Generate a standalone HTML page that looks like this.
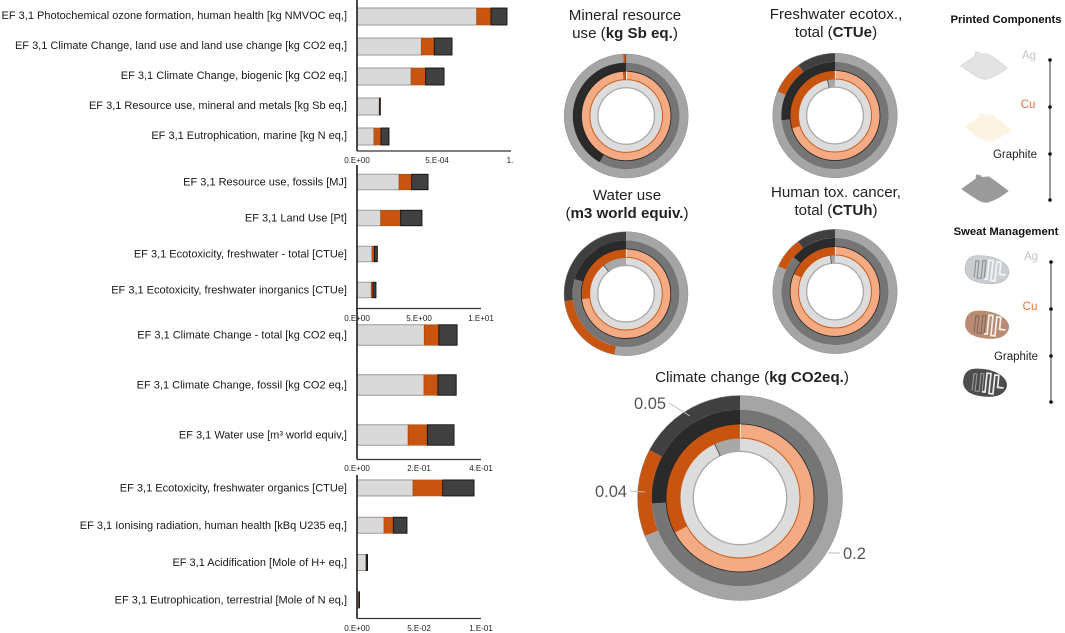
<!DOCTYPE html>
<html lang="en">
<head>
<meta charset="utf-8">
<title>Life cycle impact results</title>
<style>
html,body{margin:0;padding:0;background:#fff;}
body{width:1065px;height:633px;overflow:hidden;font-family:"Liberation Sans",sans-serif;}
svg{display:block;font-family:"Liberation Sans",sans-serif;filter:blur(0.3px);}
</style>
</head>
<body>
<svg id="figure" xmlns="http://www.w3.org/2000/svg" width="1065" height="633" viewBox="0 0 1065 633">
  <rect x="0" y="0" width="1065" height="633" fill="#fff"/>
  <g id="bars"></g>
  <g id="donuts"></g>

  <g font-size="15.1" fill="#222" text-anchor="middle">
    <text x="625" y="20">Mineral resource</text>
    <text x="625" y="38">use (<tspan font-weight="bold">kg Sb eq.</tspan>)</text>
    <text x="836" y="19">Freshwater ecotox.,</text>
    <text x="836" y="37">total (<tspan font-weight="bold">CTUe</tspan>)</text>
    <text x="627" y="200">Water use</text>
    <text x="627" y="218">(<tspan font-weight="bold">m3 world equiv.</tspan>)</text>
    <text x="836" y="197">Human tox. cancer,</text>
    <text x="836" y="215">total (<tspan font-weight="bold">CTUh</tspan>)</text>
    <text x="752" y="382">Climate change (<tspan font-weight="bold">kg CO2eq.</tspan>)</text>
  </g>

  <g font-size="16.5" fill="#555">
    <text x="634" y="409">0.05</text>
    <text x="595" y="497">0.04</text>
    <text x="843" y="559">0.2</text>
    <path d="M669,403 L690,416" stroke="#bbb" stroke-width="1" fill="none"/>
    <path d="M630,491 L645,492" stroke="#bbb" stroke-width="1" fill="none"/>
    <path d="M828,553 L840,553" stroke="#bbb" stroke-width="1" fill="none"/>
  </g>

  <g>
    <text x="1006" y="23" font-size="11.3" font-weight="bold" fill="#111" text-anchor="middle">Printed Components</text>
    <path d="M961,66 L975,56 L975.5,52 L980,53 L980,54.5 L988,54 Q998,60 1007,68 Q997,76 987,79 Q982,80 976,76 Q968,71 961,66 Z" fill="#e3e3e3" stroke="#d8d8d8" stroke-width="1" stroke-linejoin="round"/>
    <path d="M965,127 L979,117 L979.5,113.5 L984,114 L984,115.5 L992,115 Q1002,122 1011,130 Q1001,138 991,141 Q986,142 980,138 Q972,132 965,127 Z" fill="#fdf3e3" stroke="#fdf3e3" stroke-width="1" stroke-linejoin="round"/>
    <path d="M962,189 L976,179 L976.5,175 L981,176 L981,177.5 L989,177 Q999,184 1008,191 Q998,199 988,202 Q983,203 977,199 Q969,194 962,189 Z" fill="#9a9a9a" stroke="#9a9a9a" stroke-width="1" stroke-linejoin="round"/>
    <text x="1029" y="59" font-size="11.5" fill="#c4c4c4" text-anchor="middle">Ag</text>
    <text x="1028" y="108" font-size="11.5" fill="#e8703a" text-anchor="middle">Cu</text>
    <text x="1015" y="158" font-size="11.5" fill="#222" text-anchor="middle">Graphite</text>
    <line x1="1050" y1="60" x2="1050" y2="200" stroke="#333" stroke-width="1"/>
    <circle cx="1050" cy="60" r="1.8" fill="#111"/>
    <circle cx="1050" cy="107" r="1.8" fill="#111"/>
    <circle cx="1050" cy="154" r="1.8" fill="#111"/>
    <circle cx="1050" cy="200" r="1.8" fill="#111"/>
  </g>

  <g>
    <text x="1006" y="235" font-size="11.3" font-weight="bold" fill="#111" text-anchor="middle">Sweat Management</text>
    <g transform="translate(987,270) rotate(6)">
      <path d="M-22,0 Q-22,-13 -9,-13.5 Q4,-15 14,-10 Q23,-5 22,2 Q20,11 8,13 Q-6,15 -15,11 Q-22,7 -22,0 Z" fill="#c9ced3" stroke="#b5b5b5" stroke-width="0.6"/>
      <path d="M-12,9 V-8 H-9 V9 H-5 V-9 H-2 V9" fill="none" stroke="#8e8e8e" stroke-width="1.1"/>
      <path d="M-2,9 H1 V-10 H5 V10 H9 V-9 H13 V3 H19" fill="none" stroke="#f4f4f4" stroke-width="1.7"/>
    </g>
    <g transform="translate(987,325) rotate(6)">
      <path d="M-22,0 Q-22,-13 -9,-13.5 Q4,-15 14,-10 Q23,-5 22,2 Q20,11 8,13 Q-6,15 -15,11 Q-22,7 -22,0 Z" fill="#ba8b73"/>
      <path d="M-12,9 V-8 H-9 V9 H-5 V-9 H-2 V9" fill="none" stroke="#7d6a60" stroke-width="1.1"/>
      <path d="M-2,9 H1 V-10 H5 V10 H9 V-9 H13 V3 H19" fill="none" stroke="#f4f0ec" stroke-width="1.7"/>
    </g>
    <g transform="translate(985,383) rotate(6)">
      <path d="M-22,0 Q-22,-13 -9,-13.5 Q4,-15 14,-10 Q23,-5 22,2 Q20,11 8,13 Q-6,15 -15,11 Q-22,7 -22,0 Z" fill="#4d4d4d"/>
      <path d="M-12,9 V-8 H-9 V9 H-5 V-9 H-2 V9" fill="none" stroke="#9a9a9a" stroke-width="1.1"/>
      <path d="M-2,9 H1 V-10 H5 V10 H9 V-9 H13 V3 H19" fill="none" stroke="#ececec" stroke-width="1.7"/>
    </g>
    <text x="1031" y="260" font-size="11.5" fill="#c4c4c4" text-anchor="middle">Ag</text>
    <text x="1030" y="310" font-size="11.5" fill="#e8703a" text-anchor="middle">Cu</text>
    <text x="1016" y="360" font-size="11.5" fill="#222" text-anchor="middle">Graphite</text>
    <line x1="1051" y1="262" x2="1051" y2="402" stroke="#333" stroke-width="1"/>
    <circle cx="1051" cy="262" r="1.8" fill="#111"/>
    <circle cx="1051" cy="309" r="1.8" fill="#111"/>
    <circle cx="1051" cy="356" r="1.8" fill="#111"/>
    <circle cx="1051" cy="402" r="1.8" fill="#111"/>
  </g>
</svg>

<script>
// ---- Bar chart data ----
const categoriesA = ["EF 3,1 Photochemical ozone formation, human health [kg NMVOC eq,]","EF 3,1 Climate Change, land use and land use change [kg CO2 eq,]","EF 3,1 Climate Change, biogenic [kg CO2 eq,]","EF 3,1 Resource use, mineral and metals [kg Sb eq,]","EF 3,1 Eutrophication, marine [kg N eq,]"];
const lightA = [7.48e-4, 4.02e-4, 3.38e-4, 1.39e-4, 1.06e-4];
const copperA = [0.895e-4, 0.81e-4, 0.91e-4, 0.03e-4, 0.44e-4];
const graphiteA = [1.0e-4, 1.11e-4, 1.15e-4, 0.04e-4, 0.50e-4];
const tickValuesA = [0, 5e-4];
const tickLabelsA = ["0.E+00", "5.E-04"];
const domainMaxA = 1e-3;

const categoriesB = ["EF 3,1 Resource use, fossils [MJ]","EF 3,1 Land Use [Pt]","EF 3,1 Ecotoxicity, freshwater - total [CTUe]","EF 3,1 Ecotoxicity, freshwater inorganics [CTUe]"];
const lightB = [3.39, 1.91, 1.21, 1.15];
const copperB = [1.02, 1.61, 0.19, 0.14];
const graphiteB = [1.32, 1.72, 0.24, 0.24];
const tickValuesB = [0, 5, 10];
const tickLabelsB = ["0.E+00", "5.E+00", "1.E+01"];
const domainMaxB = 10;

const categoriesC = ["EF 3,1 Climate Change - total [kg CO2 eq,]","EF 3,1 Climate Change, fossil [kg CO2 eq,]","EF 3,1 Water use [m\u00b3 world equiv,]"];
const lightC = [0.217, 0.216, 0.165];
const copperC = [0.047, 0.045, 0.062];
const graphiteC = [0.059, 0.059, 0.086];
const tickValuesC = [0, 0.2, 0.4];
const tickLabelsC = ["0.E+00", "2.E-01", "4.E-01"];
const domainMaxC = 0.4;

const categoriesD = ["EF 3,1 Ecotoxicity, freshwater organics [CTUe]","EF 3,1 Ionising radiation, human health [kBq U235 eq,]","EF 3,1 Acidification [Mole of H+ eq,]","EF 3,1 Eutrophication, terrestrial [Mole of N eq,]"];
const lightD = [0.0452, 0.0218, 0.0073, 0.0012];
const copperD = [0.0239, 0.0075, 0.0002, 0.0004];
const graphiteD = [0.0253, 0.0110, 0.0010, 0.0004];
const tickValuesD = [0, 0.05, 0.1];
const tickLabelsD = ["0.E+00", "5.E-02", "1.E-01"];
const domainMaxD = 0.1;

// ---- Donut data: each ring lists its segments clockwise from 12 o'clock ----
const mineralOuter = [99.2, 0.6, 0.2];
const mineralSecond = [58.3, 0, 41.7];
const mineralThird = [98.8, 1.2];
const mineralInner = [100, 0];

const freshwaterOuter = [81.3, 8.7, 10];
const freshwaterSecond = [73.6, 0, 26.4];
const freshwaterThird = [70.3, 29.7];
const freshwaterInner = [96.7, 3.3];

const waterOuter = [53, 20.1, 26.9];
const waterSecond = [79.4, 0, 20.6];
const waterThird = [73, 27];
const waterInner = [89.4, 10.6];

const humanOuter = [81.7, 8.2, 10.1];
const humanSecond = [86, 0, 14];
const humanThird = [81.3, 18.7];
const humanInner = [98, 2];

const climateOuter = [0.2, 0.04, 0.05];
const climateSecond = [74, 0, 26];
const climateThird = [67.2, 32.8];
const climateInner = [93, 7];

const NS = "http://www.w3.org/2000/svg";
function make(tag, attrs, parent) {
  const el = document.createElementNS(NS, tag);
  for (const k in attrs) el.setAttribute(k, attrs[k]);
  parent.appendChild(el);
  return el;
}
function linearScale(dMax, r0, r1) {
  return function (v) { return r0 + (v / dMax) * (r1 - r0); };
}
function bandScale(n, r0, r1) {
  const step = (r1 - r0) / n;
  return function (i) { return r0 + step * (i + 0.5); };
}

function drawBarPanel(key, cats, light, copper, graphite, ticks, tickLabels, dMax, cfg) {
  const root = document.getElementById("bars");
  const g = make("g", {}, root);
  
  
  const x = linearScale(dMax, cfg.x0, cfg.x1);
  const y = bandScale(cats.length, cfg.top, cfg.bottom);

  cats.forEach(function (c, i) {
    const cy = y(i);
    const label = make("text", { x: 347, y: cy + cfg.labelDy, "font-size": 11, fill: "#1a1a1a", "text-anchor": "end" }, g);
    
    
    label.textContent = c;

    const top = cy - cfg.barH / 2;
    const a = light[i], b = a + copper[i], t = b + graphite[i];
    const r1 = make("rect", { x: x(0), y: top, width: x(a) - x(0), height: cfg.barH, fill: "#d9d9d9", stroke: "#9a9a9a", "stroke-width": 1 }, g);
    
    
    const r2 = make("rect", { x: x(a), y: top, width: x(b) - x(a), height: cfg.barH, fill: "#c8540f", stroke: "#a8480f", "stroke-width": 0.6 }, g);
    
    
    const r3 = make("rect", { x: x(b), y: top, width: x(t) - x(b), height: cfg.barH, fill: "#404040", stroke: "#111", "stroke-width": 0.9 }, g);
    
    
  });

  const yAxis = make("line", { x1: cfg.x0, x2: cfg.x0, y1: cfg.axisTop, y2: cfg.axisY, stroke: "#1c1c1c", "stroke-width": 1.6 }, g);
  
  
  const xAxis = make("line", { x1: cfg.x0, x2: cfg.axisEnd, y1: cfg.axisY, y2: cfg.axisY, stroke: "#333", "stroke-width": 1.2 }, g);
  
  

  ticks.forEach(function (v, i) {
    const t = make("text", { x: x(v), y: cfg.tickY, "font-size": 8, fill: "#222", "text-anchor": "middle" }, g);
    
    
    t.textContent = tickLabels[i];
  });
}

drawBarPanel("top", categoriesA, lightA, copperA, graphiteA, tickValuesA, tickLabelsA, domainMaxA,
  { x0: 357, x1: 517, top: 1.5, bottom: 151.5, barH: 17, labelDy: 2.5, axisTop: 0, axisY: 151, axisEnd: 511, tickY: 163 });
drawBarPanel("second", categoriesB, lightB, copperB, graphiteB, tickValuesB, tickLabelsB, domainMaxB,
  { x0: 357, x1: 481, top: 164, bottom: 308, barH: 15.5, labelDy: 3.5, axisTop: 165, axisY: 308.5, axisEnd: 481, tickY: 321 });
drawBarPanel("third", categoriesC, lightC, copperC, graphiteC, tickValuesC, tickLabelsC, domainMaxC,
  { x0: 357, x1: 481, top: 310, bottom: 460, barH: 20.5, labelDy: 3.5, axisTop: 308, axisY: 459.5, axisEnd: 481, tickY: 471 });
drawBarPanel("bottom", categoriesD, lightD, copperD, graphiteD, tickValuesD, tickLabelsD, domainMaxD,
  { x0: 357, x1: 481, top: 469.3, bottom: 618.5, barH: 16, labelDy: 3.5, axisTop: 475, axisY: 618.5, axisEnd: 481, tickY: 631 });

// Truncated tick label on the top panel, cut off at the figure edge.
(function () {
  const host = document.getElementById("bars");
  const t = make("text", { x: 510, y: 163, "font-size": 8, fill: "#222", "text-anchor": "middle" }, host);
  
  
  t.textContent = "1.";
})();

function polar(cx, cy, r, d) {
  const a = (d - 90) * Math.PI / 180;
  return [cx + r * Math.cos(a), cy + r * Math.sin(a)];
}

function sectorPath(cx, cy, rOut, rIn, a0, a1) {
  if (a1 - a0 >= 359.99) a1 = a0 + 359.99;
  const pt = function (r, d) { const p = polar(cx, cy, r, d); return p[0].toFixed(2) + "," + p[1].toFixed(2); };
  const large = a1 - a0 > 180 ? 1 : 0;
  return "M" + pt(rOut, a0) + " A" + rOut + "," + rOut + " 0 " + large + " 1 " + pt(rOut, a1) +
    " L" + pt(rIn, a1) + " A" + rIn + "," + rIn + " 0 " + large + " 0 " + pt(rIn, a0) + " Z";
}

function drawRing(g, ringName, values, colors, cx, cy, rOut, rIn) {
  const total = values.reduce(function (s, v) { return s + v; }, 0);
  let acc = 0;
  values.forEach(function (v, i) {
    if (v <= 0) return;
    const a0 = acc / total * 360;
    acc += v;
    const a1 = acc / total * 360;
    const p = make("path", { d: sectorPath(cx, cy, rOut, rIn, a0, a1), fill: colors[i] }, g);
    
    
  });
}

function drawDonut(key, outer, second, third, inner, cx, cy, R) {
  const root = document.getElementById("donuts");
  const g = make("g", {}, root);
  
  
  const k = R / 102.5;
  const r1 = 88.3 * k, r2 = 74 * k, r3 = 60 * k, r4 = 46.7 * k;
  drawRing(g, 'outer-ring', outer, ["#a5a5a5", "#c8540f", "#404040"], cx, cy, R, r1);
  drawRing(g, 'second-ring', second, ["#757575", "#c8540f", "#2a2a2a"], cx, cy, r1, r2);
  drawRing(g, 'third-ring', third, ["#f4aa83", "#c8540f"], cx, cy, r2, r3);
  drawRing(g, 'inner-ring', inner, ["#dcdcdc", "#a8a8a8"], cx, cy, r3, r4);

  const outline = make("circle", { cx: cx, cy: cy, r: R, fill: "none", stroke: "#8f8f8f", "stroke-width": 0.5 }, g);
  
  
  const dark = make("circle", { cx: cx, cy: cy, r: r2, fill: "none", stroke: "#222", "stroke-width": 0.8 }, g);
  
  
  const copperLine = make("circle", { cx: cx, cy: cy, r: r3, fill: "none", stroke: "#c8540f", "stroke-width": 0.9 }, g);
  
  
  const innerLine = make("circle", { cx: cx, cy: cy, r: r4, fill: "#fff", stroke: "#a8a8a8", "stroke-width": 1.3 }, g);
  
  
  const seam = make("line", { x1: cx + 0.3, x2: cx + 0.3, y1: cy - r2, y2: cy - r3, stroke: "#fff", "stroke-width": 0.8 }, g);
  
  

  if (inner[1] > 0) {
    const angle = inner[0] / (inner[0] + inner[1]) * 360;
    const pA = polar(cx, cy, r3, angle);
    const pB = polar(cx, cy, r4, angle);
    const edge = make("line", { x1: pA[0], y1: pA[1], x2: pB[0], y2: pB[1], stroke: "#444", "stroke-width": 0.8 }, g);
    
    
  }
}

drawDonut("mineral", mineralOuter, mineralSecond, mineralThird, mineralInner, 626.2, 116, 62);
drawDonut("freshwater", freshwaterOuter, freshwaterSecond, freshwaterThird, freshwaterInner, 835, 115.5, 62.3);
drawDonut("water", waterOuter, waterSecond, waterThird, waterInner, 626, 293.7, 62);
drawDonut("human", humanOuter, humanSecond, humanThird, humanInner, 835, 291.5, 62.2);
drawDonut("climate", climateOuter, climateSecond, climateThird, climateInner, 740, 498, 102.5);
</script>
</body>
</html>
